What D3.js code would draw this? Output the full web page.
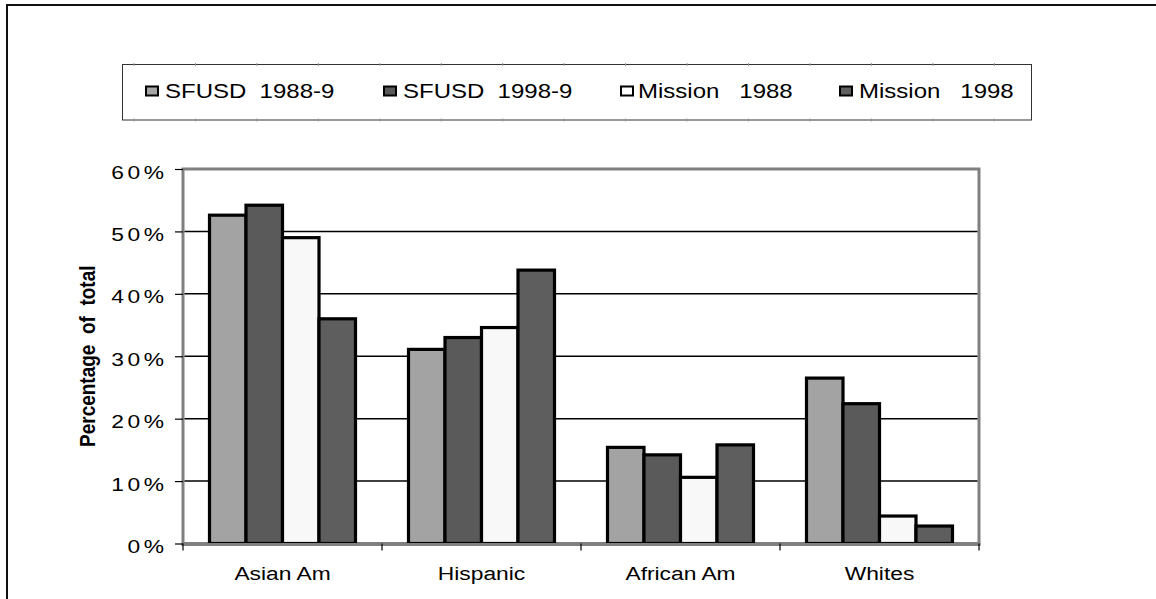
<!DOCTYPE html>
<html>
<head>
<meta charset="utf-8">
<script src="https://cdn.jsdelivr.net/npm/d3@7/dist/d3.min.js"></script>
<style>
  html, body { margin: 0; padding: 0; background: #fff; overflow: hidden; }
  svg { display: block; }
  text { font-family: "Liberation Sans", Arial, sans-serif; fill: #000; white-space: pre; }
</style>
</head>
<body>
<svg id="chart" width="1156" height="599"></svg>
<script>
// ---- data ----
const categories = ["Asian Am", "Hispanic", "African Am", "Whites"];
const seriesNames = ["SFUSD  1988-9", "SFUSD  1998-9", "Mission   1988", "Mission   1998"];
const sfusd1988 = [52.6, 31.1, 15.4, 26.5];
const sfusd1998 = [54.2, 33.0, 14.2, 22.4];
const mission1988 = [49.0, 34.6, 10.6, 4.4];
const mission1998 = [36.0, 43.8, 15.8, 2.8];
const yTicks = [0, 10, 20, 30, 40, 50, 60];
const yTickLabels = ["0%", "10%", "20%", "30%", "40%", "50%", "60%"];
const seriesValues = [sfusd1988, sfusd1998, mission1988, mission1998];

// ---- styles ----
const barFills = ["#a3a3a3", "#5a5a5a", "#f8f8f8", "#5e5e5e"];
const swatchFills = ["#a6a6a6", "#595959", "#ffffff", "#606060"];
const SX = 1.2; // horizontal text stretch of the original

const svg = d3.select("#chart");

// outer frame (only left and top edges are inside the view)
svg.append("path").attr("d", "M7,599 L7,5 L1156,5")
  .attr("fill", "none").attr("stroke", "#111").attr("stroke-width", 2);

// ---- legend ----
const lg = svg.append("g");
lg.append("rect").attr("x", 122.5).attr("y", 64.5).attr("width", 909).attr("height", 55.5)
  .attr("fill", "#fff").attr("stroke", "#333").attr("stroke-width", 1);
d3.range(134, 1000, 61.45).forEach(x => {
  [64.5, 120].forEach(yy => {
    lg.append("line").attr("x1", x).attr("x2", x).attr("y1", yy - 1.5).attr("y2", yy + 1.5)
      .attr("stroke", "#999").attr("stroke-width", 1);
  });
});
const legendSwatchX = [146, 384, 621, 840];
const legendTextX = [165, 403, 638, 859];
seriesNames.forEach((name, i) => {
  lg.append("rect").attr("x", legendSwatchX[i]).attr("y", 86.5).attr("width", 12).attr("height", 9)
    .attr("fill", swatchFills[i]).attr("stroke", "#000").attr("stroke-width", 2);
  lg.append("text").attr("transform", `translate(${legendTextX[i]},97.5) scale(${SX},1)`)
    .attr("font-size", 20).text(name);
});

// ---- plot ----
const pLeft = 183, pRight = 979, pTop = 169, pBottom = 543.5;
const y = d3.scaleLinear().domain([0, 60]).range([pBottom, pTop]);
const x0 = d3.scaleBand().domain(categories).range([pLeft, pRight]).padding(0);
const x1 = d3.scaleBand().domain(d3.range(seriesValues.length))
  .range([0, x0.bandwidth()]).paddingInner(0).paddingOuter(0.726);

// plot area border (gray)
svg.append("rect").attr("x", pLeft).attr("y", pTop).attr("width", pRight - pLeft).attr("height", pBottom - pTop)
  .attr("fill", "#fff").attr("stroke", "#808080").attr("stroke-width", 3);

// gridlines
svg.append("g").selectAll("line").data(yTicks.filter(d => d > 0 && d < 60)).join("line")
  .attr("x1", pLeft + 1.5).attr("x2", pRight - 1.5)
  .attr("y1", d => y(d)).attr("y2", d => y(d))
  .attr("stroke", "#000").attr("stroke-width", 1.5);

// bars
const groups = svg.append("g").selectAll("g").data(categories).join("g")
  .attr("transform", d => `translate(${x0(d)},0)`);
groups.selectAll("rect").data((c, ci) => seriesValues.map((s, si) => ({ si, v: s[ci] }))).join("rect")
  .attr("x", d => x1(d.si))
  .attr("width", x1.bandwidth())
  .attr("y", d => y(d.v))
  .attr("height", d => pBottom - y(d.v))
  .attr("fill", d => barFills[d.si])
  .attr("stroke", "#000").attr("stroke-width", 3.2);

// bottom axis line (gray) drawn over bar bottoms
svg.append("line").attr("x1", pLeft - 1.5).attr("x2", pRight + 1.5).attr("y1", pBottom + 1).attr("y2", pBottom + 1)
  .attr("stroke", "#808080").attr("stroke-width", 3);

// y axis
const yAxis = d3.axisLeft(y).tickValues(yTicks).tickSize(8).tickFormat("");
const yg = svg.append("g").attr("transform", `translate(${pLeft},0)`).call(yAxis);
yg.select(".domain").remove();
yg.selectAll(".tick line").attr("stroke", "#000").attr("stroke-width", 1.2);
yTicks.forEach((t, i) => {
  svg.append("text")
    .attr("transform", `translate(${164 + 3.6},${y(t) + 9.5}) scale(${SX},1)`)
    .attr("text-anchor", "end").attr("font-size", 19).attr("letter-spacing", "3px")
    .text(yTickLabels[i]);
});

// x axis ticks at category boundaries
const xBounds = categories.map(c => x0(c)).concat([pRight]);
svg.append("g").selectAll("line").data(xBounds).join("line")
  .attr("x1", d => d).attr("x2", d => d).attr("y1", pBottom).attr("y2", pBottom + 7)
  .attr("stroke", "#000").attr("stroke-width", 1.2);
categories.forEach(c => {
  svg.append("text")
    .attr("transform", `translate(${x0(c) + x0.bandwidth() / 2},580) scale(${SX},1)`)
    .attr("text-anchor", "middle").attr("font-size", 19).text(c);
});

// y title
svg.append("text")
  .attr("transform", `translate(94.5,${(pTop + pBottom) / 2}) scale(${SX},1) rotate(-90)`)
  .attr("text-anchor", "middle").attr("font-size", 19).attr("font-weight", "bold")
  .text("Percentage  of  total");
</script>
</body>
</html>
